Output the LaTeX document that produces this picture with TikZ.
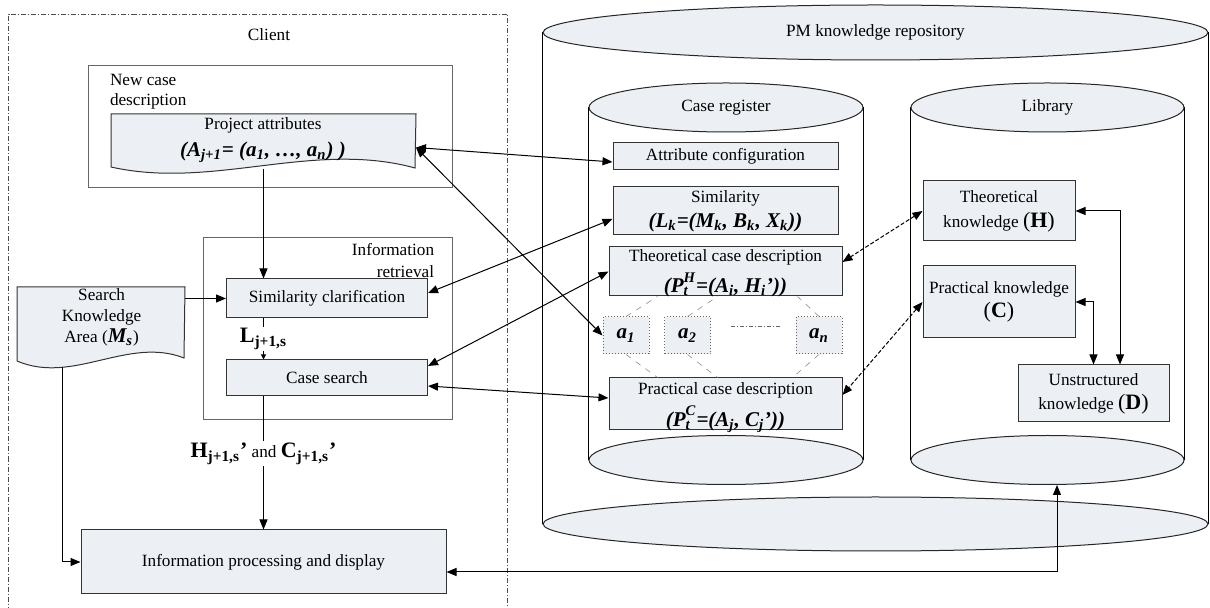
\documentclass[tikz,border=0pt]{standalone}
\usepackage{fontspec}
\setmainfont{Liberation Serif}
\usetikzlibrary{positioning,arrows.meta,shapes.geometric}
\definecolor{boxfill}{RGB}{236,240,245}
\newcommand{\fml}{\fontsize{10.5}{12}\selectfont\bfseries\itshape}
\newcommand{\bigpar}{\fontsize{11}{12}\selectfont}
\newcommand{\stk}[2]{\rlap{\textsubscript{#1}}\raisebox{1.2pt}{\textsuperscript{#2}}}

\begin{document}
\begin{tikzpicture}[x=0.5pt, y=-0.5pt, font=\fontsize{8.6}{10}\selectfont, line width=0.5pt,
  box/.style={rectangle, draw=black!80, fill=boxfill, inner sep=0pt, align=center},
  abox/.style={rectangle, draw=black!60, densely dotted, fill=boxfill, inner sep=0pt, minimum width=23pt, minimum height=18.5pt, font=\fml},
  frame/.style={rectangle, draw=black!60, line width=0.6pt},
  clientframe/.style={rectangle, draw=black!70, dash pattern=on 2.5pt off 1pt on 0.5pt off 1pt},
  cylend/.style={ellipse, draw=black!85, fill=boxfill, inner sep=0pt},
  docfill/.style={draw=black!80, fill=boxfill},
  link/.style={draw=black!45, line width=0.3pt, dashed},
  arr/.style={{Triangle[length=5pt,width=4pt]}-{Triangle[length=5pt,width=4pt]}},
  darr/.style={arr, dash pattern=on 2pt off 1pt},
  sarr/.style={-{Triangle[length=5pt,width=4pt]}},
  tarr/.style={-{Triangle[length=2.5pt,width=2.5pt]}}
]
\useasboundingbox (0,0) rectangle (1210,608);

% client side
\node (client) [clientframe, minimum width=249.5pt, minimum height=300pt, anchor=north west] at (8,14) {};
\node (clientlbl) at (269,35) {Client};

\node (ncd) [frame, minimum width=182pt, minimum height=61pt, anchor=north west] at (88,65) {};
\node (ncdlbl) [anchor=north west, align=left, inner sep=0pt] at (109.5,74) {New case\\description};

\node (pa) [minimum width=152pt, minimum height=27pt, anchor=north west, inner sep=0pt] at (111,114) {};
\draw[docfill] (pa.north west) -- (pa.north east) -- (415,168) .. controls (313,140) and (213,190) .. (111,167) -- cycle;
\node (patxt) [align=center] at (263,140) {Project attributes\\[3.5pt]{\fml (A\textsubscript{j+1}= (a\textsubscript{1}, …, a\textsubscript{n}) )}};

\node (ir) [frame, minimum width=124.75pt, minimum height=91pt, anchor=north west] at (202.5,237) {};
\node (irlbl) [anchor=north east, align=right, inner sep=0pt] at (434.6,243) {Information\\[1pt]retrieval};

\node (sc) [box, minimum width=100.5pt, minimum height=19.5pt] at (327,298.5) {Similarity clarification};
\node (cs) [box, minimum width=100.5pt, minimum height=18pt] at (327,378) {Case search};

\node (ska) [minimum width=83.5pt, minimum height=36.5pt, anchor=north west, inner sep=0pt] at (17,287) {};
\draw[docfill] (ska.north west) -- (ska.north east) -- (184,358) .. controls (128,336) and (73,385) .. (ska.south west) -- cycle;
\node (skatxt) [align=center] at (101.6,317.5) {Search\\[0.5pt]Knowledge\\[0.5pt]Area ({\fml M\textsubscript{s}})};
\coordinate (skaout) at (62,367);

\node (ip) [box, minimum width=182.5pt, minimum height=32pt] at (263.5,562) {Information processing and display};

% repository
\node (pmbot) [cylend, minimum width=332.5pt, minimum height=27pt] at (875.5,524) {};
\node (pmtop) [cylend, minimum width=332.5pt, minimum height=27.5pt] at (875.5,32.5) {PM knowledge repository};
\draw (pmtop.west) -- (pmbot.west);
\draw (pmtop.east) -- (pmbot.east);

\node (crbot) [cylend, minimum width=137pt, minimum height=24.5pt] at (726,460) {};
\node (crtop) [cylend, minimum width=137pt, minimum height=24.5pt] at (726,107.5) {Case register};
\draw (crtop.west) -- (crbot.west);
\draw (crtop.east) -- (crbot.east);

\node (libbot) [cylend, minimum width=136.5pt, minimum height=24.5pt] at (1047.5,460) {};
\node (libtop) [cylend, minimum width=136.5pt, minimum height=24.5pt] at (1047.5,107.5) {Library};
\draw (libtop.west) -- (libbot.west);
\draw (libtop.east) -- (libbot.east);

% case register
\node (ac) [box, minimum width=112.5pt, minimum height=13.5pt] at (725.5,156.5) {Attribute configuration};
\node (sim) [box, minimum width=112.5pt, minimum height=24pt] at (725.5,211) {Similarity\\[2.5pt]{\fml (L\textsubscript{k}=(M\textsubscript{k}, B\textsubscript{k}, X\textsubscript{k}))}};
\node (tcd) [box, minimum width=116.5pt, minimum height=24.5pt] at (725.5,271.5) {};
\node (tcdtxt) [align=center, inner sep=0pt] at (725.5,273.5) {Theoretical case description\\[2.5pt]{\fml (P\stk{t}{H}=(A\textsubscript{i}, H\textsubscript{i}’))}};
\node (a1) [abox] at (626,335.5) {a\textsubscript{1}};
\node (a2) [abox] at (687.5,335.5) {a\textsubscript{2}};
\node (an) [abox] at (819,335.5) {a\textsubscript{n}};
\node (pcd) [box, minimum width=116.5pt, minimum height=26pt] at (725.5,404) {};
\node (pcdtxt) [align=center, inner sep=0pt] at (725.5,407.5) {Practical case description\\[3pt]{\fml (P\stk{t}{C}=(A\textsubscript{j}, C\textsubscript{j}’))}};

\draw[link] (a1.north) -- ([xshift=24.5pt]tcd.south west);
\draw[link] (a2.north) -- ([xshift=54.5pt]tcd.south west);
\draw[link] (an.north) -- ([xshift=94.5pt]tcd.south west);
\draw[link] (a1.south) -- ([xshift=24.5pt]pcd.north west);
\draw[link] (a2.south) -- ([xshift=54.5pt]pcd.north west);
\draw[link] (an.south) -- ([xshift=92pt]pcd.north west);
\draw[draw=black!60, dash pattern=on 2pt off 1pt on 0.5pt off 1pt] ([xshift=10pt,yshift=4.25pt]a2.east) -- ([xshift=-8pt,yshift=4.25pt]an.west);

% library
\node (tk) [box, minimum width=76pt, minimum height=30pt] at (999,211) {Theoretical\\[2.5pt]knowledge {\bigpar(\textbf{H})}};
\node (pk) [box, minimum width=76pt, minimum height=36pt] at (999,302) {Practical knowledge\\[2pt]{\bigpar(\textbf{C})}};
\node (uk) [box, minimum width=75.5pt, minimum height=28.5pt] at (1093.5,393.5) {Unstructured\\[2pt]knowledge {\bigpar(\textbf{D})}};

% connectors
\draw[sarr] (pa.south) -- (pa.south |- sc.north);
\draw[sarr] (ska.east |- sc.west) -- (sc.west);
\draw[sarr] (skaout) |- (ip.west);
\draw[tarr] (sc.south -| pa.south) -- (cs.north -| pa.south) node[midway, fill=white, inner sep=1pt] {\bigpar\bfseries L\textsubscript{j+1,s}};
\draw[sarr] (ip.north |- cs.south) -- (ip.north) node[pos=0.43, fill=white, inner sep=1pt] {{\bigpar\bfseries H\textsubscript{j+1,s}’} and {\bigpar\bfseries C\textsubscript{j+1,s}’}};

\draw[arr] ([yshift=-3pt]pa.east) -- ([yshift=-2.75pt]ac.west);
\draw[arr] ([yshift=-3pt]pa.east) -- (a1.west);
\draw[arr] ([yshift=2.75pt]sc.east) -- ([yshift=-4pt]sim.west);
\draw[arr] ([yshift=6pt]cs.east) -- (tcd.west);
\draw[arr] ([yshift=-4pt]cs.east) -- ([yshift=3pt]pcd.west);
\draw[darr] (tk.west) -- ([yshift=4.75pt]tcd.east);
\draw[darr] (pk.west) -- ([yshift=4.5pt]pcd.east);
\draw[arr] (tk.east) -| ([xshift=13.25pt]uk.north);
\draw[arr] (pk.east) -| (uk.north);
\draw[arr] ([yshift=-5pt]ip.east) -| ([xshift=4.75pt]libbot.south);
\end{tikzpicture}
\end{document}
